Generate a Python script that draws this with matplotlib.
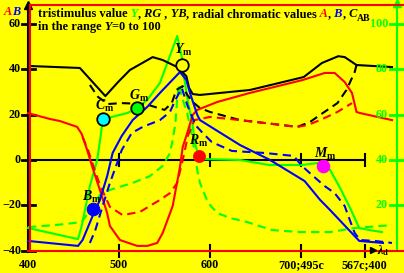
import matplotlib
matplotlib.use('Agg')
import matplotlib.pyplot as plt

# ---------------- data ----------------
x_ticks = [400, 500, 600, 700, 770]
x_tick_labels = ['400', '500', '600', '700;495c', '567c;400']
y_ticks = [-40, -20, 0, 20, 40, 60]
y_tick_labels = ['\u221240', '\u221220', '0', '20', '40', '60']
Y_ticks = [20, 40, 60, 80, 100]          # right axis (tristimulus Y)
Y_tick_labels = ['20', '40', '60', '80', '100']

# radial chromatic value A (red)
A_x = [400, 424, 435, 454, 459, 465, 471, 479, 487, 490, 501, 520, 531, 542, 548, 559, 567, 570, 575,
       581, 586, 608, 644, 702, 726, 737, 748, 756, 761, 765, 800]
A_y = [20.7, 18.1, 17.2, 14.6, 11.5, 4.4, -3.5, -13.2, -23.4, -29.1, -35.3, -37.9, -37.9, -36.6, -32.2,
       -20.3, -3.1, 5.7, 11.9, 19.9, 22.1, 25.6, 29.6, 35.3, 38.4, 38.4, 34.4, 29.6, 21.2, 20.7, 17.6]
A2_x = [460, 466, 474, 479, 490, 504, 523, 545, 556, 564, 570, 576, 583, 600, 633, 669, 696, 707, 721, 740, 756]
A2_y = [10.1, 4.4, -5.3, -11.0, -20.7, -24.3, -22.9, -17.6, -14.6, -10.1, 0.0, 11.0, 17.6, 19.0, 17.6,
        15.9, 14.6, 15.4, 17.6, 21.2, 25.1]

# radial chromatic value B (blue)
B_x = [400, 455, 460, 471, 479, 487, 493, 503, 515, 531, 545, 567, 574, 578, 586, 589, 633, 666, 704,
       721, 732, 764, 790]
B_y = [-35.7, -37.9, -35.3, -24.7, -17.6, -7.1, 3.1, 10.6, 17.6, 23.4, 29.6, 38.8, 35.3, 29.6, 19.9,
       17.6, 6.6, 0.0, -9.3, -17.6, -22.1, -35.7, -36.6]
B2_x = [468, 474, 482, 490, 498, 503, 514, 526, 545, 556, 562, 569, 575, 584, 592, 602, 624, 660, 692,
        701, 712, 726, 737, 748, 754, 759, 765, 781, 800]
B2_y = [-36.6, -30.9, -20.3, -10.1, -1.3, 4.4, 11.9, 14.6, 17.6, 21.2, 26.5, 31.8, 24.3, 15.4, 11.9, 7.9,
        4.0, 3.1, 1.8, -2.6, -6.6, -11.5, -14.6, -20.3, -26.9, -32.2, -35.3, -35.7, -36.6]

# radial chroma C_AB (black)
C_x = [400, 457, 485, 499, 512, 537, 548, 564, 574, 577, 581, 589, 644, 703, 723, 741, 748, 761, 800]
C_y = [41.5, 40.6, 28.2, 34.4, 39.7, 45.4, 44.1, 41.0, 37.0, 31.8, 29.1, 28.7, 30.9, 36.6, 42.8, 45.8,
       45.4, 41.9, 41.0]
C2_x = [468, 477, 488, 503, 529, 550, 558, 563, 570, 575, 581, 589, 600, 633, 669, 696, 710, 721, 740,
        750, 759, 761]
C2_y = [33.1, 27.8, 24.7, 25.1, 24.7, 22.1, 25.1, 30.9, 32.6, 28.7, 25.6, 22.9, 21.2, 17.6, 15.9, 14.6,
        16.8, 19.9, 25.1, 30.9, 38.8, 41.9]

# tristimulus value Y (green, right axis)
Y_x = [400, 455, 459, 468, 476, 480, 482, 492, 509, 520, 531, 545, 564, 569, 572, 576, 580, 584, 587,
       594, 633, 665, 701, 719, 724, 732, 743, 754, 764, 775, 789]
Y_v = [10.0, 5.1, 10.9, 28.5, 40.0, 51.0, 57.6, 59.0, 60.7, 62.9, 66.5, 74.0, 94.7, 85.4, 75.3, 65.1,
       57.6, 46.6, 42.2, 40.4, 40.0, 37.8, 37.8, 38.7, 37.4, 35.6, 27.6, 18.8, 10.0, 9.1, 8.2]
Y2_x = [400, 430, 459, 466, 479, 490, 515, 534, 548, 556, 559, 562, 564, 566, 569, 575, 578, 581, 586,
        589, 598, 608, 622, 641, 668, 699, 732, 759, 800]
Y2_v = [10.4, 11.3, 12.6, 16.6, 24.6, 26.8, 29.9, 32.9, 37.4, 43.1, 48.8, 56.3, 67.4, 73.5, 67.8, 60.7,
        54.6, 48.8, 35.6, 29.9, 21.0, 16.6, 14.4, 12.6, 9.1, 8.2, 8.2, 10.0, 11.3]

# marked points
mark_names = ['C', 'G', 'Y', 'R', 'B', 'M']
mark_x = [482.4, 519.8, 569.2, 588.0, 471.4, 724.2]
mark_y = [18.1, 22.9, 41.9, 1.8, -21.6, -2.6]
mark_face = ['#00ffff', '#00ff00', '#ffff00', '#ff0000', '#0000ff', '#ff00ff']
mark_edge = ['black', 'black', 'black', '#ff0000', '#0000ff', '#ff00ff']

# ---------------- layout ----------------
Y_OFF = 40.0  # right-axis value minus this = left-axis value


def PX(px):
    return 400 + (px - 28) / 0.91


def PY(py):
    return (160 - py) / 2.26667


plt.rcParams['font.family'] = ['Liberation Serif', 'DejaVu Serif']
plt.rcParams['font.weight'] = 'bold'
plt.rcParams['mathtext.fontset'] = 'custom'
plt.rcParams['mathtext.rm'] = 'Liberation Serif:bold'
plt.rcParams['mathtext.it'] = 'Liberation Serif:italic:bold'
plt.rcParams['mathtext.bf'] = 'Liberation Serif:bold'

YEL = '#ffff00'
GRN = '#00ff00'
fig = plt.figure(figsize=(4.04, 2.73), dpi=100, facecolor=YEL)
ax = fig.add_axes([0, 0, 1, 1])
ax.set_xlim(PX(0), PX(404))
ax.set_ylim(PY(273), PY(0))
ax.axis('off')

FS = 8.7
# zero line with ticks
ax.plot([PX(28), PX(365)], [0, 0], color='black', lw=1.5, zorder=1)
for xt in x_ticks[1:]:
    ax.plot([xt, xt], [PY(154), PY(166)], color='black', lw=1.5, zorder=1)
    ax.plot([xt, xt], [PY(245), PY(257)], color='black', lw=1.5, zorder=1)

# left axis
ax.plot([400, 400], [PY(252), PY(5)], color='black', lw=1.5, zorder=1)
ax.plot([400], [PY(5)], marker='^', ms=5.5, color='black', zorder=1)
for yt, lab in zip(y_ticks, y_tick_labels):
    ax.plot([PX(22), PX(35)], [yt, yt], color='black', lw=2, zorder=1)
    ax.text(PX(21), yt, lab, ha='right', va='center', fontsize=FS, color='black')

# bottom labels
for xt, lab in zip(x_ticks, x_tick_labels):
    ax.text(xt, PY(265), lab, ha='center', va='center', fontsize=FS, color='black')

# right (green) axis
ax.plot([PX(397), PX(397)], [PY(251), PY(3)], color=GRN, lw=1.5, zorder=1)
ax.plot([PX(397)], [PY(3)], marker='^', ms=5.5, color=GRN, zorder=1)
for Yt, lab in zip(Y_ticks, Y_tick_labels):
    ax.plot([PX(390), PX(404)], [Yt - Y_OFF, Yt - Y_OFF], color=GRN, lw=2, zorder=1)
    ax.text(PX(388), Yt - Y_OFF, lab, ha='right', va='center', fontsize=FS, color=GRN)

# curves
DASH = (4, 2.5)
LW = 1.5
ax.plot(Y2_x, [v - Y_OFF for v in Y2_v], color=GRN, lw=LW, dashes=DASH, zorder=2)
ax.plot(Y_x, [v - Y_OFF for v in Y_v], color=GRN, lw=LW, zorder=2)
ax.plot(C2_x, C2_y, color='black', lw=LW, dashes=DASH, zorder=2)
ax.plot(C_x, C_y, color='black', lw=LW, zorder=2)
ax.plot(A2_x, A2_y, color='#ff0000', lw=LW, dashes=DASH, zorder=2)
ax.plot(A_x, A_y, color='#ff0000', lw=LW, zorder=2)
ax.plot(B2_x, B2_y, color='#0000ff', lw=LW, dashes=DASH, zorder=2)
ax.plot(B_x, B_y, color='#0000ff', lw=LW, zorder=2)

# red frame
ax.plot([PX(30), PX(30)], [PY(251), PY(5)], color='#ff0000', lw=1.5, zorder=3)
ax.plot([PX(30), PX(404)], [PY(5), PY(5)], color='#ff0000', lw=1.5, zorder=3, clip_on=False)
ax.plot([PX(28), PX(404)], [PY(251), PY(251)], color='#ff0000', lw=1.5, zorder=3, clip_on=False)

# lambda_d arrow
ax.plot([PX(373)], [PY(250)], marker='>', ms=5, color='black', zorder=3)
ax.text(PX(377), PY(251), r'$\lambda_{\rm d}$', ha='left', va='center', fontsize=FS, color='black', zorder=4)

# marked points
label_off = [(2, -13), (2, -12), (1, -15), (0, -15), (-1, -12), (2, -12)]
for n, x, y, fc, ec, (dx, dy) in zip(mark_names, mark_x, mark_y, mark_face, mark_edge, label_off):
    ms = 8.4 if n == 'R' else 9.0
    mew = 1.3 if ec == 'black' else 0.8
    ax.plot([x], [y], marker='o', ms=ms, mfc=fc, mec=ec, mew=mew, zorder=5)
    ax.text(x + dx / 0.91, y - dy / 2.26667, r'$%s_{\rm m}$' % n, ha='center', va='center',
            fontsize=10, color='black', zorder=6)

# top-left "AB"
t = ax.text(PX(4), PY(15), 'A', color='#ff0000', fontsize=8.8, fontstyle='italic', ha='left', va='baseline')
ax.annotate('B', xy=(1, 0), xycoords=t, color='#0000ff', fontsize=8.8, fontstyle='italic', ha='left', va='bottom')


def chain(pieces, x, y):
    prev = None
    for s, color, style, dy, size in pieces:
        kw = dict(color=color, fontsize=size, fontstyle=style, fontweight='bold', zorder=7)
        if prev is None:
            prev = ax.text(x, y, s, ha='left', va='baseline', **kw)
        else:
            prev = ax.annotate(s, xy=(1, 0), xycoords=prev, xytext=(0, dy), textcoords='offset points',
                               ha='left', va='bottom', **kw)


TS = 8.95
line1 = [('tristimulus value', 'black', 'normal', 0, TS),
         (' Y', GRN, 'italic', 0, TS),
         (',', 'black', 'normal', 0, TS),
         (' RG', 'black', 'italic', 0, TS),
         (' ,', 'black', 'normal', 0, TS),
         (' YB', 'black', 'italic', 0, TS),
         (', radial chromatic values', 'black', 'normal', 0, TS),
         (' A', '#ff0000', 'italic', 0, TS),
         (',', 'black', 'normal', 0, TS),
         (' B', '#0000ff', 'italic', 0, TS),
         (',', 'black', 'normal', 0, TS),
         (' C', 'black', 'italic', 0, TS),
         ('AB', 'black', 'normal', -2.0, 7.0)]
chain(line1, PX(38), PY(17))
line2 = [('in the range', 'black', 'normal', 0, TS),
         (' Y', 'black', 'italic', 0, TS),
         ('=0 to 100', 'black', 'normal', 0, TS)]
chain(line2, PX(38), PY(30))

fig.savefig('out.png', dpi=100, facecolor=YEL)
